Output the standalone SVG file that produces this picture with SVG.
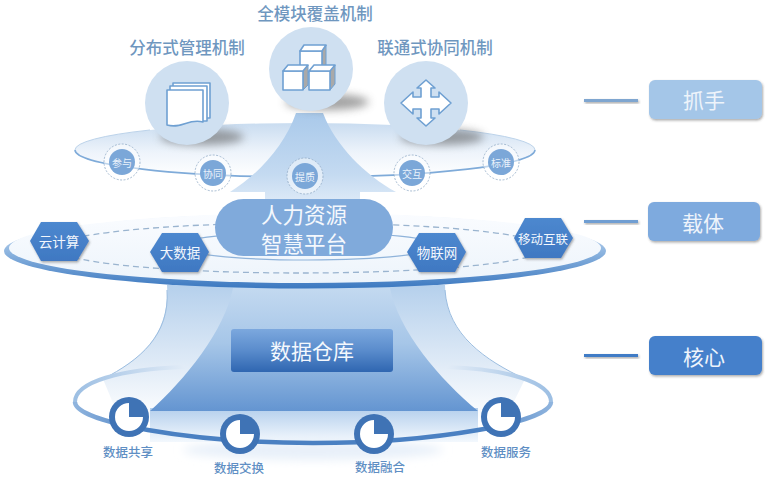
<svg xmlns="http://www.w3.org/2000/svg" width="768" height="478" viewBox="0 0 768 478">
<style>
text{font-family:"Noto Sans CJK SC","Noto Sans",sans-serif;text-anchor:middle;dominant-baseline:central}
.t{fill:#6f97bf;font-size:16.5px;font-weight:500}
.small{fill:#eaf2fb;font-size:10px}
.hex{fill:url(#hexG);filter:url(#sh)}
.hext{fill:#f2f7fd;font-size:13.5px}
.big{fill:#f4f8fd;font-size:21.5px}
.dl{fill:#5f8fc4;font-size:12.5px;font-weight:500}
.btn{font-size:21px;fill:#eef4fb}
.lead{filter:url(#sh)}
.cir{fill:#cfe0f1}
.ish{fill:#666;opacity:.6;filter:url(#b5)}
.ico{fill:#fff;stroke:#6fa0d2;stroke-width:1.6;stroke-linejoin:round}
.side{fill:#a9a9a9;stroke:#6fa0d2;stroke-width:1;stroke-linejoin:round}
.dash{fill:#fff;fill-opacity:.5;stroke:#8fa9c5;stroke-dasharray:2 1.5;stroke-width:.8}
.sn{fill:#7ba7d8}
</style>
<defs>
<filter id="b5" x="-40%" y="-100%" width="180%" height="300%"><feGaussianBlur stdDeviation="4"/></filter>
<filter id="b3" x="-20%" y="-60%" width="140%" height="220%"><feGaussianBlur stdDeviation="5"/></filter>
<filter id="sh" x="-10%" y="-30%" width="125%" height="180%"><feDropShadow dx="1" dy="1.5" stdDeviation="1" flood-color="#444" flood-opacity=".45"/></filter>
<linearGradient id="hexG" x1="0" y1="0" x2="0" y2="1"><stop offset="0" stop-color="#4d88cf"/><stop offset="1" stop-color="#3f78c2"/></linearGradient>
<linearGradient id="topE" x1="0" y1="0" x2="0" y2="1"><stop offset="0" stop-color="#c9dcf0"/><stop offset=".55" stop-color="#eef4fb"/><stop offset="1" stop-color="#fff"/></linearGradient>
<linearGradient id="arrow" x1="0" y1="0" x2="0" y2="1"><stop offset="0" stop-color="#a9c9ea"/><stop offset=".6" stop-color="#c4daf1"/><stop offset="1" stop-color="#e9f1fa"/></linearGradient>
<linearGradient id="ringM" x1="0" y1="0" x2="0" y2="1"><stop offset="0" stop-color="#e6eff9"/><stop offset=".5" stop-color="#8fb6e0"/><stop offset="1" stop-color="#3b78c0"/></linearGradient>
<linearGradient id="midF" x1="0" y1="0" x2="0" y2="1"><stop offset="0" stop-color="#fafcff"/><stop offset="1" stop-color="#edf4fb"/></linearGradient>
<linearGradient id="fun" x1="0" y1="0" x2="0" y2="1"><stop offset="0" stop-color="#b5d0ec"/><stop offset=".55" stop-color="#dde9f6"/><stop offset="1" stop-color="#fff"/></linearGradient>
<linearGradient id="trap" x1="0" y1="0" x2="0" y2="1"><stop offset="0" stop-color="#c3d9f0"/><stop offset=".45" stop-color="#a6c6e8"/><stop offset="1" stop-color="#6495d1"/></linearGradient>
<linearGradient id="strip" x1="0" y1="0" x2="0" y2="1"><stop offset="0" stop-color="#b4cfec"/><stop offset="1" stop-color="#f3f8fd"/></linearGradient>
<linearGradient id="wh" x1="0" y1="0" x2="0" y2="1"><stop offset="0" stop-color="#7ca8de"/><stop offset=".5" stop-color="#5a8ccc"/><stop offset="1" stop-color="#2f66b1"/></linearGradient>
<linearGradient id="ringLow" x1="0" y1="0" x2="1" y2="0"><stop offset="0" stop-color="#8fb4de"/><stop offset=".15" stop-color="#4a80c2"/><stop offset=".85" stop-color="#4a80c2"/><stop offset="1" stop-color="#8fb4de"/></linearGradient>
<linearGradient id="ringUpL" x1="0" y1="0" x2="1" y2="0"><stop offset="0" stop-color="#9dbfe3"/><stop offset="1" stop-color="#e2ecf7"/></linearGradient>
<linearGradient id="ringUpR" x1="1" y1="0" x2="0" y2="0"><stop offset="0" stop-color="#9dbfe3"/><stop offset="1" stop-color="#e2ecf7"/></linearGradient>
<g id="pie"><circle r="20" fill="#3f73b5"/><path d="M0,-14A14,14 0 1 0 14,0L0,0Z" fill="#fff"/></g>
</defs>
<rect width="768" height="478" fill="#fff"/>

<!-- top ellipse -->
<ellipse cx="305" cy="150" rx="230" ry="27" fill="url(#topE)"/>
<path d="M75,150A230,27 0 0 0 535,150" fill="none" stroke="#7fabd9" stroke-width="1.6"/>
<path d="M75,150A230,27 0 0 1 150,130M460,130A230,27 0 0 1 535,150" fill="none" stroke="#bcd3ea" stroke-width="1"/>

<!-- lower funnel and ring -->
<path d="M167,285C170,335 140,360 103,379L120,420H505L525,379C485,360 445,335 445,285Z" fill="url(#fun)"/>
<path d="M167,290C170,335 140,360 103,379M445,290C448,335 485,360 525,379" fill="none" stroke="#9bbde0" stroke-width="1"/>
<path d="M75,402C75,382 120,369 185,367" fill="none" stroke="url(#ringUpL)" stroke-width="4"/>
<path d="M551,402C551,382 506,369 447,367" fill="none" stroke="url(#ringUpR)" stroke-width="4"/>
<rect x="150" y="408" width="328" height="34" fill="url(#strip)"/>
<ellipse cx="313" cy="450" rx="130" ry="10" fill="#e8f0f9" filter="url(#b3)"/>
<path d="M150,411C185,380 225,330 233,288H390C398,330 440,380 478,411Z" fill="url(#trap)"/>
<path d="M75,402C75,422 190,443 313,443C436,443 551,422 551,402" fill="none" stroke="url(#ringLow)" stroke-width="4.5"/>

<!-- up arrow -->
<path d="M296,113H323C335,145 365,175 396,192H360V215H265V192H230C258,175 285,145 296,113Z" fill="url(#arrow)"/>

<!-- mid ellipse -->
<g id="platform-ring">
<ellipse cx="305" cy="251" rx="301" ry="37.5" fill="url(#ringM)"/>
<ellipse cx="305" cy="248" rx="296" ry="35" fill="url(#midF)"/>
<rect x="265" y="213" width="75" height="8" fill="#d5e5f5" opacity=".7"/>
<ellipse cx="300" cy="248" rx="245" ry="25" fill="none" stroke="#9ab4cf" stroke-width="1.3" stroke-dasharray="6 4"/>
<ellipse cx="308" cy="246" rx="130" ry="14" fill="none" stroke="#8fb3da" stroke-width="1.2"/>
</g>

<g id="connectors">
<rect class="lead" x="584" y="99" width="54" height="3" fill="#7fa6d0"/>
<rect class="lead" x="584" y="220" width="54" height="3" fill="#6f9ed2"/>
<rect class="lead" x="584" y="354" width="54" height="3" fill="#3f7cc6"/>
</g>

<g id="module-left">
<text class="t" x="187" y="47">分布式管理机制</text>
<ellipse class="ish" cx="202" cy="137" rx="42" ry="8"/>
<circle class="cir" cx="187" cy="103" r="42"/>
<path class="ico" d="M173,83H210V118H173Z"/>
<path class="ico" d="M170,86H207V121H170Z"/>
<path class="ico" d="M167,90H203V122C188,118 183,129 167,125Z"/>
</g>
<g id="module-center">
<text class="t" x="315" y="13">全模块覆盖机制</text>
<ellipse class="ish" cx="327" cy="102" rx="42" ry="8"/>
<circle class="cir" cx="311" cy="69" r="42"/>
<path class="side" d="M322,51L326,45V66L322,72Z"/>
<path class="ico" d="M300,51H322V72H300Z"/>
<path class="ico" d="M300,51L304,45H326L322,51Z"/>
<path class="side" d="M303,71L308,65V85L303,90Z"/>
<path class="ico" d="M283,71H303V90H283Z"/>
<path class="ico" d="M283,71L288,65H308L303,71Z"/>
<path class="side" d="M330,71L335,65V84L330,90Z"/>
<path class="ico" d="M309,71H330V90H309Z"/>
<path class="ico" d="M309,71L314,65H335L330,71Z"/>
</g>
<g id="module-right">
<text class="t" x="435" y="47">联通式协同机制</text>
<ellipse class="ish" cx="442" cy="137" rx="42" ry="8"/>
<circle class="cir" cx="426" cy="103" r="42"/>
<path class="ico" d="M426,80L435,88H431V97H439V92L451,103L439,114V109H431V118H435L426,126L417,118H421V109H413V114L401,103L413,92V97H421V88H417Z"/>
</g>

<g id="n-canyu"><circle class="dash" cx="122" cy="162" r="18"/><circle class="sn" cx="122" cy="162" r="13"/><text class="small" x="122" y="162">参与</text></g>
<g id="n-xietong"><circle class="dash" cx="213" cy="173" r="18"/><circle class="sn" cx="213" cy="173" r="13"/><text class="small" x="213" y="173">协同</text></g>
<g id="n-tizhi"><circle class="dash" cx="305" cy="176" r="18"/><circle class="sn" cx="305" cy="176" r="13"/><text class="small" x="305" y="176">提质</text></g>
<g id="n-jiaohu"><circle class="dash" cx="412" cy="173" r="18"/><circle class="sn" cx="412" cy="173" r="13"/><text class="small" x="412" y="173">交互</text></g>
<g id="n-biaozhun"><circle class="dash" cx="501" cy="162" r="18"/><circle class="sn" cx="501" cy="162" r="13"/><text class="small" x="501" y="162">标准</text></g>

<g id="platform">
<rect x="215" y="199" width="178" height="57" rx="28.5" fill="#80aadb"/>
<text class="big" x="304" y="213">人力资源</text>
<text class="big" x="304" y="242">智慧平台</text>
</g>

<g id="n-yun"><path class="hex" d="M41,222H77L89,241L77,261H41L30,241Z"/><text class="hext" x="59" y="241">云计算</text></g>
<g id="n-dashuju"><path class="hex" d="M162,233H198L209,252L198,272H162L150,252Z"/><text class="hext" x="180" y="252">大数据</text></g>
<g id="n-wulian"><path class="hex" d="M419,233H455L466,252L455,272H419L407,252Z"/><text class="hext" x="437" y="252">物联网</text></g>
<g id="n-yidong"><path class="hex" d="M525,218H561L573,238L561,258H525L514,238Z"/><text class="hext" style="font-size:12.5px" x="543" y="238">移动互联</text></g>

<g id="warehouse">
<rect x="231" y="329" width="162" height="43" rx="3" fill="url(#wh)"/>
<text x="312" y="350" fill="#f4f8fd" font-size="21">数据仓库</text>
</g>

<g id="d1"><use href="#pie" x="129" y="417"/><text class="dl" x="128" y="451">数据共享</text></g>
<g id="d2"><use href="#pie" x="240" y="434"/><text class="dl" x="239" y="467">数据交换</text></g>
<g id="d3"><use href="#pie" x="374" y="434"/><text class="dl" x="380" y="466">数据融合</text></g>
<g id="d4"><use href="#pie" x="501" y="417"/><text class="dl" x="506" y="451">数据服务</text></g>

<g id="b1"><rect x="649" y="80" width="113" height="39" rx="6" fill="#a4c6e8" filter="url(#sh)"/><text class="btn" x="704" y="99">抓手</text></g>
<g id="b2n"><rect x="648" y="202" width="112" height="39" rx="6" fill="#7eaade" filter="url(#sh)"/><text class="btn" x="703" y="222">载体</text></g>
<g id="b3n"><rect x="649" y="336" width="113" height="39" rx="6" fill="#4480cb" filter="url(#sh)"/><text class="btn" x="704" y="356">核心</text></g>
</svg>
